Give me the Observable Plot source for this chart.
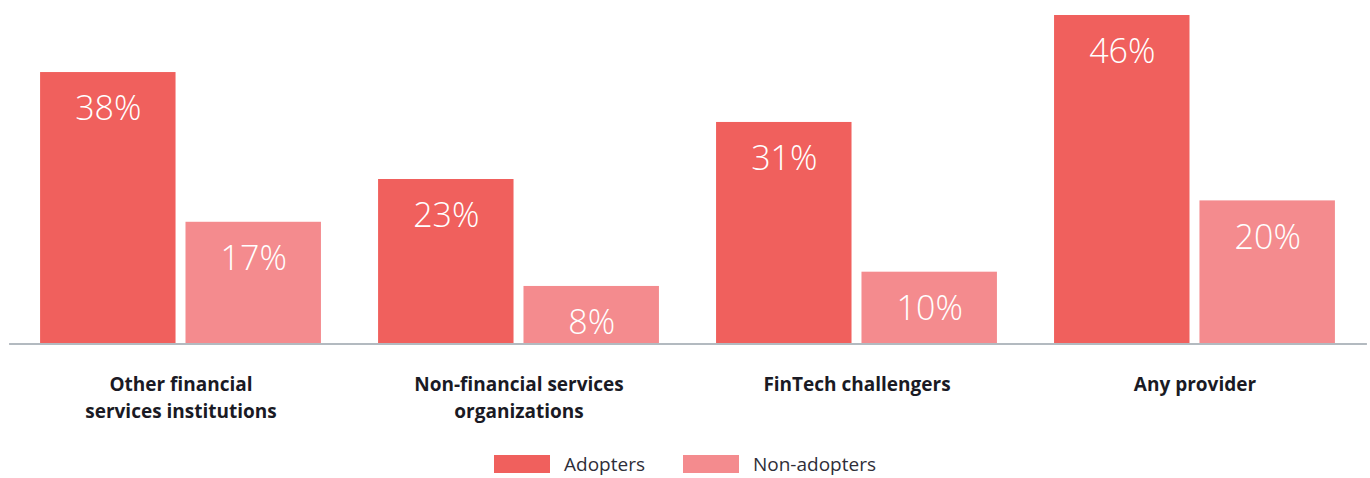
<!DOCTYPE html>
<html><head><meta charset="utf-8">
<script src="https://cdn.jsdelivr.net/npm/d3@7"></script>
<script src="https://cdn.jsdelivr.net/npm/@observablehq/plot@0.6"></script>
<style>
body{margin:0;background:#fff;font-family:"Open Sans",sans-serif;}
#legend{display:flex;justify-content:center;margin-top:7px;}
.lg-swatches{font-size:19px !important;color:#2E2E38 !important;font-family:"Open Sans",sans-serif !important;}
.lg-swatch{margin-right:38px !important;}
.lg-swatch:last-child{margin-right:0 !important;}
.lg-swatch svg{margin-right:14px !important;}
</style></head><body><div id="chart"></div><div id="legend"></div>
<script>
const groups = ["Other financial services institutions", "Non-financial services organizations", "FinTech challengers", "Any provider"];
const groupLabels = ["Other financial\nservices institutions", "Non-financial services\norganizations", "FinTech challengers", "Any provider"];
const series = ["Adopters", "Non-adopters"];
const adopters = [38, 23, 31, 46];
const nonAdopters = [17, 8, 10, 20];
const colors = ["#F0605D", "#F48B8E"];

const data = groups.flatMap((g, i) => [
  {group: g, series: series[0], value: adopters[i]},
  {group: g, series: series[1], value: nonAdopters[i]}
]);
const labelOf = new Map(groups.map((g, i) => [g, groupLabels[i]]));

const chart = Plot.plot({
  width: 1370, height: 440, marginTop: 15, marginBottom: 97, marginLeft: 10, marginRight: 5,
  style: {fontFamily: '"Open Sans", sans-serif', background: "white"},
  fx: {domain: groups, paddingInner: 0.169, paddingOuter: 0.089, round: false, label: null},
  x: {domain: series, paddingInner: 0.0685, paddingOuter: 0, round: false, axis: null},
  y: {domain: [0, 46], axis: null},
  color: {domain: series, range: colors},
  marks: [
    Plot.barY(data, {fx: "group", x: "series", y: "value", fill: "series"}),
    Plot.text(data, {fx: "group", x: "series", y: "value", text: d => d.value + "%", fill: "white", fontSize: 34, fontWeight: 300, dy: 37, lineAnchor: "middle"}),
    Plot.ruleY([0], {stroke: "#B3BAC0", strokeWidth: 2, dy: 0.5, insetLeft: -31, insetRight: -32}),
    Plot.axisFx({anchor: "bottom", tickSize: 0, tickPadding: 28, tickFormat: g => labelOf.get(g), fontSize: 19, fontWeight: "bold", color: "#1A1A24", lineHeight: 1.42, label: null})
  ]
});
document.getElementById("chart").append(chart);

const legend = Plot.legend({
  color: {domain: series, range: colors},
  legend: "swatches", swatchWidth: 56, swatchHeight: 18, className: "lg"
});
document.getElementById("legend").append(legend);
</script></body></html>
